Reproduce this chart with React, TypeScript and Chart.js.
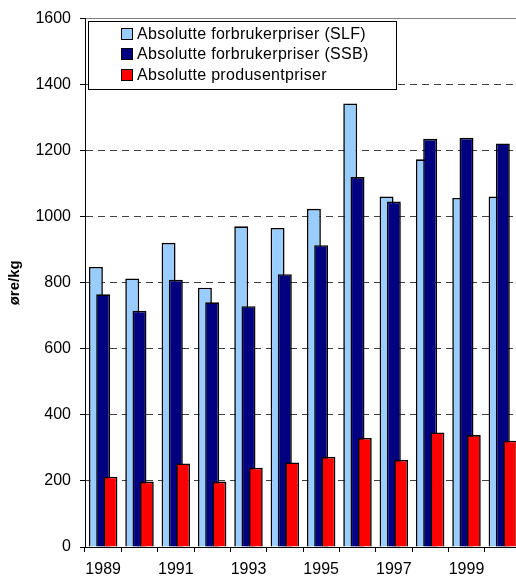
import React, { useEffect, useRef } from 'react';
import { Chart, registerables } from 'chart.js';

Chart.register(...registerables);

const years = ['1989', '1990', '1991', '1992', '1993', '1994', '1995', '1996', '1997', '1998', '1999', '2000'];
const slfValues = [848, 813, 921, 785, 971, 966, 1024, 1343, 1061, 1174, 1057, 1061];
const ssbValues = [765, 715, 809, 741, 729, 826, 914, 1120, 1046, 1236, 1239, 1222];
const producerValues = [213, 198, 253, 198, 240, 256, 273, 330, 264, 347, 339, 322];
const seriesLabels = [
  'Absolutte forbrukerpriser (SLF)',
  'Absolutte forbrukerpriser (SSB)',
  'Absolutte produsentpriser',
];
const seriesColors = ['#99CCFF', '#000080', '#FF0000'];
const yMin = 0;
const yMax = 1600;
const yStep = 200;
const yTitle = 'øre/kg';

const FONT = "'Liberation Sans', Arial, sans-serif";

export default function App() {
  const ref = useRef<HTMLCanvasElement>(null);

  useEffect(() => {
    if (!ref.current) return;

    const forwardDraw = {
      id: 'forwardDraw',
      beforeDatasetsDraw(chart: any) {
        const metas = chart.getSortedVisibleDatasetMetas();
        const ctx = chart.ctx;
        const a = chart.chartArea;
        ctx.save();
        ctx.beginPath();
        ctx.rect(a.left, a.top - 2, a.right - a.left, a.bottom - a.top + 2);
        ctx.clip();
        for (const m of metas) m.controller.draw();
        ctx.restore();
        return false;
      },
    };

    const legendBox = {
      id: 'legendBox',
      afterDraw(chart: any) {
        const ctx = chart.ctx;
        const a = chart.chartArea;
        const left = a.left + 3;
        const top = a.top + 2.5;
        const w = 308;
        const h = 68;
        ctx.save();
        ctx.fillStyle = '#fff';
        ctx.fillRect(left, top, w, h);
        ctx.strokeStyle = '#000';
        ctx.lineWidth = 1;
        ctx.strokeRect(Math.round(left) + 0.5, Math.round(top) + 0.5, w, h);
        ctx.font = `16px ${FONT}`;
        ctx.textBaseline = 'middle';
        ctx.textAlign = 'left';
        try { (ctx as any).letterSpacing = '0.3px'; } catch (e) {}
        chart.data.datasets.forEach((ds: any, i: number) => {
          const cy = top + 12 + i * 20.7;
          const mx = Math.round(left + 33);
          const my = Math.round(cy - 5.5);
          ctx.fillStyle = ds.backgroundColor;
          ctx.fillRect(mx, my, 11, 11);
          ctx.strokeStyle = '#000';
          ctx.strokeRect(mx + 0.5, my + 0.5, 11, 11);
          ctx.fillStyle = '#000';
          ctx.fillText(ds.label, left + 49, cy + 1);
        });
        ctx.restore();
      },
    };

    const chart = new Chart(ref.current, {
      type: 'bar',
      data: {
        labels: years,
        datasets: [
          { label: seriesLabels[0], data: slfValues, backgroundColor: seriesColors[0] },
          { label: seriesLabels[1], data: ssbValues, backgroundColor: seriesColors[1] },
          { label: seriesLabels[2], data: producerValues, backgroundColor: seriesColors[2] },
        ],
      },
      options: {
        animation: false,
        responsive: false,
        devicePixelRatio: 1,
        layout: { padding: { top: 18, right: 9, bottom: 0, left: 0 } },
        plugins: { legend: { display: false }, tooltip: { enabled: false } },
        datasets: {
          bar: {
            categoryPercentage: 0.6,
            barPercentage: 1.92,
            borderWidth: 1.6,
            borderColor: '#000',
          },
        },
        scales: {
          x: {
            offset: true,
            grid: {
              offset: true,
              drawOnChartArea: false,
              drawTicks: true,
              tickLength: 5,
              tickColor: '#000',
              tickWidth: 1,
            },
            border: { color: '#000', width: 1 },
            ticks: {
              autoSkip: false,
              maxRotation: 0,
              minRotation: 0,
              padding: 8,
              color: '#000',
              font: { family: FONT, size: 16 },
              callback: (_v: any, i: number) => (i % 2 === 0 ? years[i] : ''),
            },
            afterFit: (s: any) => { s.height = 36; },
          },
          y: {
            min: yMin,
            max: yMax,
            ticks: {
              stepSize: yStep,
              padding: 9,
              color: '#000',
              font: { family: FONT, size: 16 },
              callback: (v: any) => String(v),
            },
            grid: {
              color: (c: any) => {
                const v = c.tick ? c.tick.value : 0;
                if (v === yMin) return '#000';
                if (v === yMax) return '#808080';
                return '#404040';
              },
              lineWidth: 1,
              tickColor: '#000',
              tickLength: 5,
              tickBorderDash: [],
            },
            border: {
              color: '#000',
              width: 1,
              dash: (c: any) => (c.tick && c.tick.value > yMin && c.tick.value < yMax ? [7, 5] : []),
            },
            title: {
              display: true,
              text: yTitle,
              color: '#000',
              font: { family: FONT, size: 15, weight: 'bold' },
              padding: { top: 6, bottom: 0 },
            },
            afterFit: (s: any) => { s.width = 85; },
          },
        },
      } as any,
      plugins: [forwardDraw, legendBox],
    });

    return () => chart.destroy();
  }, []);

  return (
    <div style={{ position: 'fixed', left: 0, top: 0, width: 516, height: 583, overflow: 'hidden', background: '#fff' }}>
      <canvas ref={ref} width={530} height={583} style={{ width: 530, height: 583, display: 'block' }} />
    </div>
  );
}
